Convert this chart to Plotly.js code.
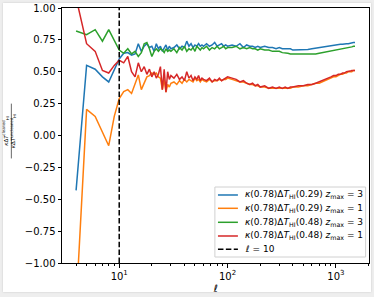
<!DOCTYPE html>
<html><head><meta charset="utf-8">
<script src="https://cdn.plot.ly/plotly-3.0.1.min.js"></script>
<style>
html,body{margin:0;padding:0;background:#eeeeee;}
#wrap{position:relative;width:374px;height:297px;overflow:hidden;}
#card{position:absolute;left:3px;top:3px;width:368px;height:289px;background:#fff;box-shadow:0 0 2px rgba(0,0,0,0.15);}
#chart{position:absolute;left:0;top:0;width:374px;height:297px;}
</style>
</head><body><div id="wrap"><div id="card"></div><div id="chart"></div></div>
<script>
const ell = [4,5,6,7,8,9,10,11,12,13,14,15,16,17,18,19,20,21,22,23,24,25,26,27,28,29,30,
32,34,36,38,40,42,44,46,48,50,52,54,56,58,60,
64,68,72,76,80,84,88,92,96,100,
110,120,130,140,150,160,170,180,190,200,
220,240,260,280,300,320,340,360,380,400,
450,500,550,600,650,700,750,800,850,900,950,1000,1050,1100,1150,1200,1250,1300,1350,1400,1450,1500];

const blue = [-0.43,0.55,0.52,0.46,0.42,0.52,0.60,0.645,0.65,0.63,0.64,0.72,0.66,0.70,0.72,0.69,0.70,0.66,0.72,0.68,0.70,0.66,0.69,0.71,0.67,0.70,0.68,
0.69,0.71,0.68,0.70,0.69,0.74,0.70,0.72,0.69,0.71,0.70,0.72,0.70,0.71,0.70,
0.72,0.70,0.71,0.73,0.70,0.71,0.72,0.70,0.71,0.70,
0.71,0.70,0.72,0.69,0.71,0.70,0.70,0.69,0.70,0.69,
0.70,0.69,0.69,0.68,0.69,0.68,0.68,0.675,0.68,0.67,
0.67,0.672,0.675,0.68,0.685,0.69,0.69,0.695,0.70,0.70,0.705,0.71,0.71,0.715,0.715,0.72,0.72,0.72,0.725,0.725,0.73,0.73];

const orange = [-1.34,0.205,0.15,0.03,-0.08,0.15,0.29,0.345,0.36,0.33,0.40,0.475,0.36,0.42,0.46,0.47,0.49,0.48,0.49,0.46,0.45,0.36,0.44,0.34,0.40,0.38,0.41,
0.42,0.40,0.43,0.41,0.44,0.42,0.44,0.43,0.42,0.45,0.43,0.44,0.42,0.44,0.43,
0.42,0.44,0.42,0.43,0.43,0.44,0.43,0.44,0.44,0.45,
0.44,0.43,0.42,0.42,0.41,0.40,0.40,0.39,0.39,0.38,
0.38,0.37,0.37,0.37,0.37,0.37,0.37,0.37,0.37,0.38,
0.38,0.39,0.39,0.40,0.41,0.41,0.42,0.43,0.44,0.45,0.46,0.46,0.47,0.48,0.48,0.49,0.49,0.50,0.50,0.50,0.51,0.51];

const green = [0.82,0.79,0.83,0.74,0.83,0.74,0.67,0.645,0.68,0.64,0.66,0.62,0.65,0.72,0.73,0.68,0.62,0.66,0.68,0.66,0.68,0.67,0.65,0.68,0.66,0.67,0.66,
0.68,0.65,0.69,0.67,0.70,0.66,0.68,0.67,0.69,0.66,0.70,0.68,0.67,0.69,0.68,
0.70,0.67,0.69,0.68,0.70,0.68,0.69,0.70,0.68,0.69,
0.69,0.70,0.68,0.69,0.68,0.69,0.68,0.68,0.67,0.68,
0.67,0.67,0.66,0.66,0.66,0.65,0.65,0.645,0.64,0.64,
0.635,0.635,0.635,0.64,0.64,0.645,0.65,0.655,0.66,0.66,0.665,0.67,0.67,0.675,0.68,0.68,0.685,0.69,0.69,0.695,0.70,0.70];

const red = [1.08,0.72,0.66,0.51,0.49,0.55,0.59,0.57,0.62,0.50,0.46,0.57,0.50,0.54,0.48,0.52,0.46,0.50,0.45,0.48,0.54,0.36,0.52,0.34,0.50,0.44,0.47,
0.45,0.48,0.44,0.46,0.43,0.50,0.45,0.47,0.43,0.46,0.44,0.47,0.43,0.45,0.44,
0.43,0.45,0.42,0.44,0.43,0.45,0.43,0.44,0.45,0.46,
0.45,0.44,0.42,0.43,0.41,0.40,0.41,0.39,0.40,0.38,
0.39,0.37,0.38,0.37,0.38,0.37,0.38,0.37,0.38,0.38,
0.39,0.39,0.40,0.40,0.41,0.42,0.43,0.44,0.45,0.46,0.47,0.47,0.48,0.48,0.49,0.49,0.50,0.50,0.505,0.51,0.51,0.51];

const vlineX = [10,10];
const vlineY = [-1,1];

const names = [
 '<i>κ</i>(0.78)Δ<i>T</i><sub>HI</sub>(0.29) <i>z</i><sub>max</sub> = 3',
 '<i>κ</i>(0.78)Δ<i>T</i><sub>HI</sub>(0.29) <i>z</i><sub>max</sub> = 1',
 '<i>κ</i>(0.78)Δ<i>T</i><sub>HI</sub>(0.48) <i>z</i><sub>max</sub> = 3',
 '<i>κ</i>(0.78)Δ<i>T</i><sub>HI</sub>(0.48) <i>z</i><sub>max</sub> = 1',
 '<i>ℓ</i> = 10'
];
const colors = ['#1f77b4','#ff7f0e','#2ca02c','#d62728','#000000'];
const dashes = ['solid','solid','solid','solid','5.5px,2.4px'];
const series = [blue, orange, green, red];

const traces = series.map((s,i)=>({x:ell,y:s,type:'scatter',mode:'lines',name:names[i],
  line:{color:colors[i],width:1.5}}));
traces.push({x:vlineX,y:vlineY,type:'scatter',mode:'lines',name:names[4],
  line:{color:colors[4],width:1.5,dash:dashes[4]}});

// custom compact legend (matplotlib style)
const legBox = {x0:0.498,x1:0.989,y0:0.0235,y1:0.298};
const rowY = [0.2667,0.2145,0.1596,0.1059,0.0537];
const shapes = [{type:'rect',xref:'paper',yref:'paper',x0:legBox.x0,x1:legBox.x1,y0:legBox.y0,y1:legBox.y1,
  fillcolor:'rgba(255,255,255,0.8)',line:{color:'#d0d0d0',width:1}}];
const annotations = [];
names.forEach((n,i)=>{
  shapes.push({type:'line',xref:'paper',yref:'paper',x0:0.508,x1:0.573,y0:rowY[i],y1:rowY[i],
    line:{color:colors[i],width:1.5,dash:dashes[i]}});
  annotations.push({xref:'paper',yref:'paper',x:0.591,y:rowY[i],xanchor:'left',yanchor:'middle',
    showarrow:false,text:n,font:{size:9}});
});
// y-axis label as a fraction
annotations.push({xref:'paper',yref:'paper',x:-0.17,y:0.516,xanchor:'center',yanchor:'middle',
  textangle:-90,showarrow:false,font:{size:5.5},
  text:'<i>κ</i>Δ<i>T</i><sup>cleaned</sup><sub>HI</sub><br><i>κ</i>Δ<i>T</i><sup>uncleaned</sup><sub>HI</sub>'});
shapes.push({type:'line',xref:'paper',yref:'paper',x0:-0.165,x1:-0.165,y0:0.41,y1:0.625,
  line:{color:'#000',width:0.6}});

const layout = {
  width:374,height:297,
  margin:{l:62,r:5,t:8,b:34},
  paper_bgcolor:'rgba(0,0,0,0)',plot_bgcolor:'#fff',
  font:{family:'DejaVu Sans',size:10,color:'#000'},
  showlegend:false,
  xaxis:{type:'log',range:[0.472,3.305],showgrid:false,zeroline:false,
    showline:true,mirror:true,linecolor:'#000',linewidth:1,
    ticks:'outside',ticklen:3.5,tickcolor:'#000',
    tickmode:'array',tickvals:[10,100,1000],ticktext:['10<sup>1</sup>','10<sup>2</sup>','10<sup>3</sup>'],
    minor:{ticks:'outside',ticklen:2,tickcolor:'#000',tickmode:'array',
      tickvals:[4,5,6,7,8,9,20,30,40,50,60,70,80,90,200,300,400,500,600,700,800,900,2000]},
    title:{text:'<i>ℓ</i>',standoff:4,font:{size:10}}},
  yaxis:{range:[-1,1],showgrid:false,zeroline:false,
    showline:true,mirror:true,linecolor:'#000',linewidth:1,
    ticks:'outside',ticklen:3.5,tickcolor:'#000',
    tickmode:'array',tickvals:[-1,-0.75,-0.5,-0.25,0,0.25,0.5,0.75,1],tickformat:'.2f'},
  annotations:annotations,
  shapes:shapes
};
Plotly.newPlot('chart',traces,layout,{displayModeBar:false,staticPlot:true});
</script></body></html>
